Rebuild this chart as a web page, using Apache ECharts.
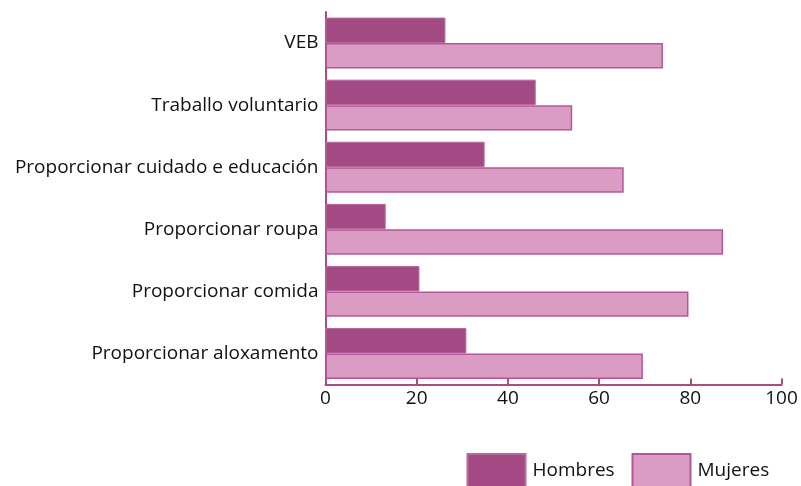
<!DOCTYPE html>
<html><head><meta charset="utf-8">
<script src="https://cdn.jsdelivr.net/npm/echarts@6/dist/echarts.min.js"></script>
<style>html,body{margin:0;padding:0;background:#fff}#c{width:801px;height:486px}</style>
</head><body><div id="c"></div>
<script>
const categories = ['VEB','Traballo voluntario','Proporcionar cuidado e educación','Proporcionar roupa','Proporcionar comida','Proporcionar aloxamento'];
const hombres = [26.3, 46.1, 34.9, 13.2, 20.6, 30.9];
const mujeres = [74.0, 54.1, 65.4, 87.2, 79.6, 69.6];
const xTicks = [0, 20, 40, 60, 80, 100];
const seriesNames = ['Hombres', 'Mujeres'];

const axisColor = '#a94d8a';
const font = 'Open Sans';
const textColor = '#111';
const chart = echarts.init(document.getElementById('c'), null, {renderer: 'canvas'});
const legendBase = {top: 453, itemWidth: 58, itemHeight: 33, icon: 'rect',
  textStyle: {fontFamily: font, fontSize: 19, color: textColor, padding: [4,0,0,2]}};
chart.setOption({
  animation: false,
  grid: {left: 325.5, right: 19.5, top: 12, bottom: 101.5, containLabel: false},
  legend: [
    Object.assign({data: [seriesNames[0]], left: 466.5, padding: 0}, legendBase),
    Object.assign({data: [seriesNames[1]], left: 631.5, padding: 0}, legendBase)
  ],
  xAxis: {
    type: 'value', min: xTicks[0], max: xTicks[xTicks.length-1], interval: 20,
    axisLine: {show: true, lineStyle: {color: axisColor, width: 2}},
    axisTick: {show: true, inside: true, length: 6, lineStyle: {color: axisColor, width: 2}},
    splitLine: {show: false},
    axisLabel: {fontFamily: font, fontSize: 19, color: textColor, margin: 5}
  },
  yAxis: {
    type: 'category', data: categories, inverse: true,
    axisLine: {show: true, lineStyle: {color: axisColor, width: 2}},
    axisTick: {show: false},
    axisLabel: {fontFamily: font, fontSize: 19, color: textColor, margin: 7, padding: [4,0,0,0]}
  },
  series: [
    {name: seriesNames[0], type: 'bar', data: hombres, barGap: '0%', barCategoryGap: '18%',
     itemStyle: {color: '#a34a84', borderColor: '#b86a9e', borderWidth: 1}},
    {name: seriesNames[1], type: 'bar', data: mujeres, barGap: '0%', barCategoryGap: '18%',
     itemStyle: {color: '#db9cc3', borderColor: '#b4579a', borderWidth: 1.5}}
  ]
});
</script></body></html>
